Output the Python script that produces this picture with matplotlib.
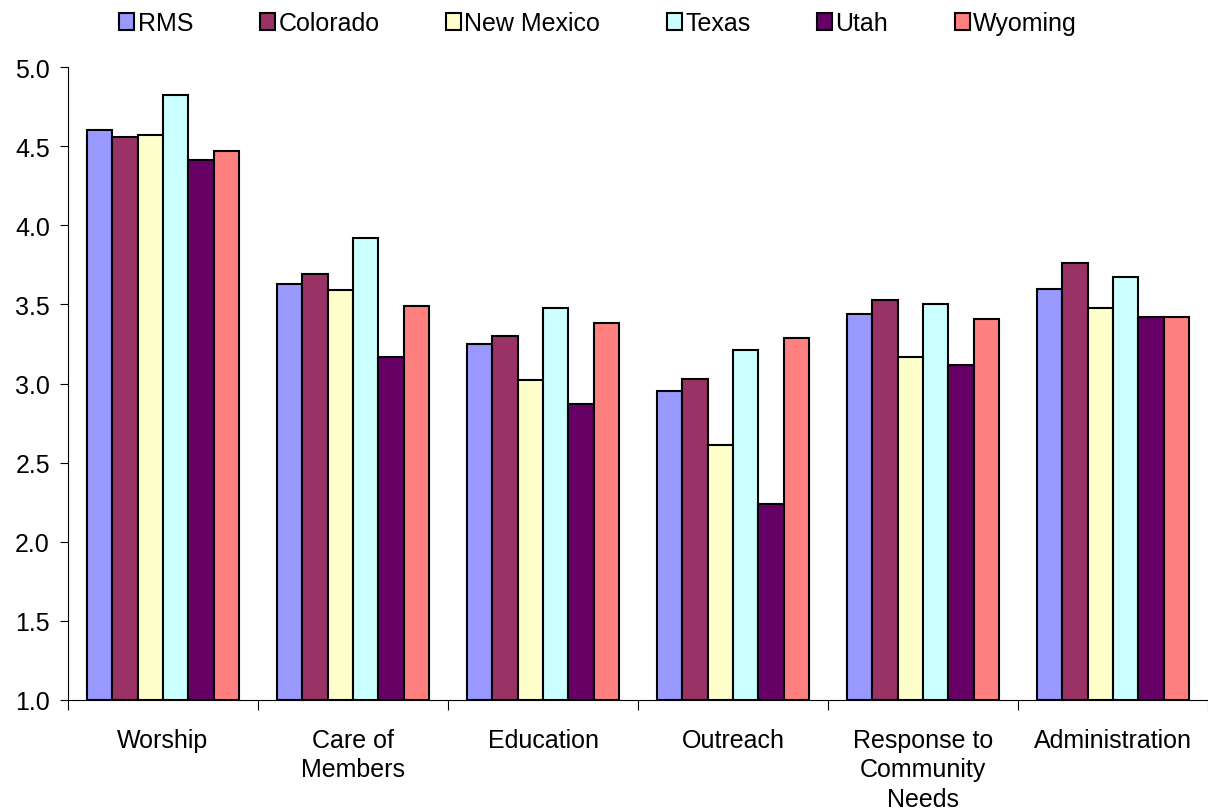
import numpy as np
import matplotlib
matplotlib.use("Agg")
import matplotlib.pyplot as plt

plt.rcParams['font.family'] = ['Liberation Sans', 'DejaVu Sans']

categories = ["Worship", "Care of\nMembers", "Education", "Outreach",
              "Response to\nCommunity\nNeeds", "Administration"]
series_names = ["RMS", "Colorado", "New Mexico", "Texas", "Utah", "Wyoming"]

rms = [4.60, 3.63, 3.25, 2.95, 3.44, 3.60]
colorado = [4.56, 3.69, 3.30, 3.03, 3.53, 3.76]
new_mexico = [4.57, 3.59, 3.02, 2.61, 3.17, 3.48]
texas = [4.82, 3.92, 3.48, 3.21, 3.50, 3.67]
utah = [4.41, 3.17, 2.87, 2.24, 3.12, 3.42]
wyoming = [4.47, 3.49, 3.38, 3.29, 3.41, 3.42]

colors = ["#9999FF", "#993366", "#FFFFCC", "#CCFFFF", "#660066", "#FF8080"]
yticks = [1.0, 1.5, 2.0, 2.5, 3.0, 3.5, 4.0, 4.5, 5.0]

series = [rms, colorado, new_mexico, texas, utah, wyoming]
fs = 18

fig = plt.figure(figsize=(12.08, 8.12), dpi=100)
ax = fig.add_axes([68 / 1208, 1 - 701 / 812, 1140 / 1208, 633 / 812])

x = np.arange(len(categories))
width = 0.8 / len(series)
base = 1.0
for i, (name, vals) in enumerate(zip(series_names, series)):
    offs = x - 0.4 + width * (i + 0.5)
    ax.bar(offs, np.array(vals) - base, width, bottom=base, color=colors[i],
           edgecolor="black", linewidth=1.5, label=name)

ax.set_xlim(-0.5, len(categories) - 0.5)
ax.set_ylim(1.0, 5.0)
ax.set_yticks(yticks)
ax.set_yticklabels([f"{v:.1f}" for v in yticks], fontsize=fs)
ax.tick_params(axis="y", direction="out", length=6, width=0.8, pad=7)

# category labels sit between boundary ticks
ax.set_xticks(np.arange(len(categories) + 1) - 0.5)
ax.set_xticklabels([])
ax.tick_params(axis="x", direction="out", length=7, width=0.8)
ax.set_xticks(x, minor=True)
ax.set_xticklabels(categories, minor=True, fontsize=fs, linespacing=1.3)
ax.tick_params(axis="x", which="minor", length=0, pad=20)

for s in ["top", "right"]:
    ax.spines[s].set_visible(False)
for s in ["left", "bottom"]:
    ax.spines[s].set_linewidth(0.8)

fig.legend(loc="center", bbox_to_anchor=(598 / 1208, 1 - 24 / 812), ncol=6,
           frameon=False, fontsize=fs, handlelength=0.6, handleheight=0.7,
           handletextpad=0.15, columnspacing=2.65)

fig.savefig("out.png", dpi=100)
